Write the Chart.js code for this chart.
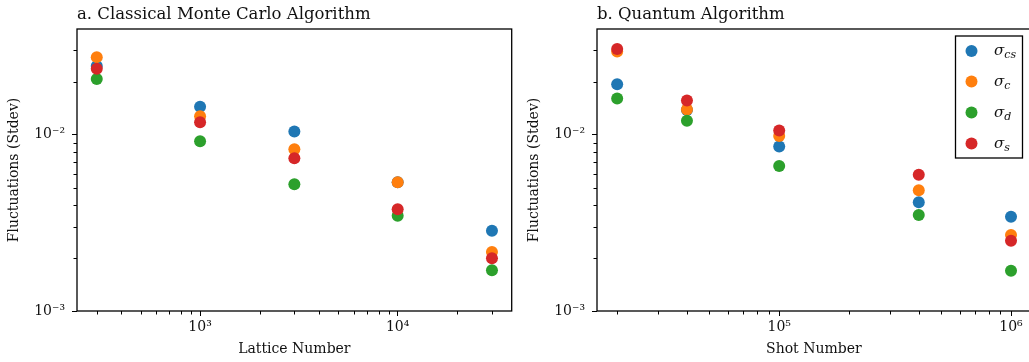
<!DOCTYPE html>
<html>
<head>
<meta charset="utf-8">
<script src="https://cdn.jsdelivr.net/npm/chart.js@4.4.0/dist/chart.umd.min.js"></script>
<style>
  html, body { margin: 0; padding: 0; background: #fff; overflow: hidden; width: 1029px; height: 362px; }
  .panel { position: absolute; top: 0; width: 520px; height: 362px; }
</style>
</head>
<body>
<div class="panel" style="left:0"><canvas id="chartA" width="520" height="362"></canvas></div>
<div class="panel" style="left:520px"><canvas id="chartB" width="520" height="362"></canvas></div>
<script>
// series names and subscripts for the legend
var seriesSub = ['cs', 'c', 'd', 's'];
var seriesColors = ['#1f77b4', '#ff7f0e', '#2ca02c', '#d62728'];

// a. classical monte carlo
var lattice = [300, 1000, 3000, 10000, 30000];
var mc_cs = [0.0245, 0.0144, 0.0104, 0.00537, 0.00285];
var mc_c = [0.0275, 0.0127, 0.00826, 0.00537, 0.00216];
var mc_d = [0.0207, 0.00917, 0.00523, 0.00347, 0.0017];
var mc_s = [0.0236, 0.01176, 0.00734, 0.00377, 0.00199];

// b. quantum
var shots = [20000, 40000, 100000, 400000, 1000000];
var q_cs = [0.0193, 0.0138, 0.00855, 0.00413, 0.00342];
var q_c = [0.0296, 0.0139, 0.00983, 0.00483, 0.0027];
var q_d = [0.016, 0.012, 0.00664, 0.0035, 0.00169];
var q_s = [0.0306, 0.0156, 0.01054, 0.00593, 0.0025];

// axis ticks
var yMajor = [0.001, 0.01];
var xMajorA = [1000, 10000];
var xMajorB = [100000, 1000000];
var supers = { '-3': '⁻³', '-2': '⁻²', '3': '³', '4': '⁴', '5': '⁵', '6': '⁶' };

var serif = "'DejaVu Serif', serif";

function powLabel(v) {
    var e = Math.round(Math.log10(v));
    return '10' + supers[String(e)];
}

function minorsFor(min, max) {
    var out = [];
    for (var e = -4; e <= 7; e++) {
        for (var m = 2; m <= 9; m++) {
            var v = m * Math.pow(10, e);
            if (v > min && v < max) out.push(v);
        }
    }
    return out;
}

var framePlugin = {
    id: 'frame',
    afterDraw: function(chart, args, opts) {
        var c = chart.ctx, a = chart.chartArea;
        c.save();
        // minor ticks
        c.strokeStyle = '#000';
        c.lineWidth = 1;
        var xs = chart.scales.x, ys = chart.scales.y;
        minorsFor(xs.min, xs.max).forEach(function(v) {
            var px = Math.round(xs.getPixelForValue(v)) + 0.5;
            c.beginPath(); c.moveTo(px, a.bottom); c.lineTo(px, a.bottom + 3.5); c.stroke();
        });
        minorsFor(ys.min, ys.max).forEach(function(v) {
            var py = Math.round(ys.getPixelForValue(v)) + 0.5;
            c.beginPath(); c.moveTo(a.left, py); c.lineTo(a.left - 3.5, py); c.stroke();
        });
        // box
        c.lineWidth = 1.3;
        c.strokeRect(a.left, a.top, a.right - a.left, a.bottom - a.top);
        // panel title
        c.fillStyle = '#111';
        c.font = '16.5px ' + serif;
        c.textBaseline = 'alphabetic';
        c.textAlign = 'left';
        c.fillText(opts.text, a.left, 19);
        c.restore();
    }
};

var legendPlugin = {
    id: 'sigmaLegend',
    afterDraw: function(chart, args, opts) {
        if (!opts.show) return;
        var c = chart.ctx;
        c.save();
        var bx = 435.5, by = 36, bw = 67, bh = 122;
        c.fillStyle = '#fff';
        c.fillRect(bx, by, bw, bh);
        c.strokeStyle = '#000';
        c.lineWidth = 1.3;
        c.strokeRect(bx, by, bw, bh);
        var rows = [51, 81.5, 112.5, 143.5];
        seriesSub.forEach(function(sub, i) {
            c.fillStyle = seriesColors[i];
            c.beginPath(); c.arc(451.5, rows[i], 6, 0, Math.PI * 2); c.fill();
            c.fillStyle = '#111';
            c.textBaseline = 'alphabetic';
            c.textAlign = 'left';
            c.font = 'italic 15px ' + serif;
            c.fillText('σ', 474, rows[i] + 4);
            var w = c.measureText('σ').width;
            c.font = 'italic 11px ' + serif;
            c.fillText(sub, 474 + w, rows[i] + 7);
        });
        c.restore();
    }
};

function makeDatasets(xs, lists) {
    return lists.map(function(list, i) {
        return {
            label: 'σ_' + seriesSub[i],
            data: xs.map(function(x, j) { return { x: x, y: list[j] }; }),
            backgroundColor: seriesColors[i],
            borderWidth: 0,
            pointRadius: 6,
            pointHoverRadius: 6,
            order: 4 - i
        };
    });
}

function makeChart(id, cfg) {
    return new Chart(document.getElementById(id), {
        type: 'scatter',
        data: { datasets: makeDatasets(cfg.xs, cfg.lists) },
        plugins: [framePlugin, legendPlugin],
        options: {
            responsive: false,
            animation: false,
            layout: { padding: { top: 29, right: cfg.padRight, left: 0, bottom: 0 } },
            plugins: {
                legend: { display: false },
                tooltip: { enabled: false },
                frame: { text: cfg.title },
                sigmaLegend: { show: cfg.legend }
            },
            scales: {
                x: {
                    type: 'logarithmic',
                    min: cfg.xmin,
                    max: cfg.xmax,
                    afterBuildTicks: function(s) { s.ticks = cfg.xMajor.map(function(v) { return { value: v }; }); },
                    afterFit: function(s) { s.height = 51; },
                    border: { display: false },
                    grid: { drawOnChartArea: false, drawTicks: true, tickLength: 5, color: '#000', tickWidth: 1 },
                    ticks: { color: '#111', font: { family: serif, size: 14 }, padding: 3, maxRotation: 0, autoSkip: false, callback: powLabel },
                    title: { display: true, text: cfg.xlabel, color: '#111', font: { family: serif, size: 14 }, padding: { top: 2 } }
                },
                y: {
                    type: 'logarithmic',
                    min: 0.001,
                    max: 0.0397,
                    afterBuildTicks: function(s) { s.ticks = yMajor.map(function(v) { return { value: v }; }); },
                    afterFit: function(s) { s.width = 77; },
                    border: { display: false },
                    grid: { drawOnChartArea: false, drawTicks: true, tickLength: 5, color: '#000', tickWidth: 1 },
                    ticks: { color: '#111', font: { family: serif, size: 14 }, padding: 7, autoSkip: false, callback: powLabel },
                    title: { display: true, text: 'Fluctuations (Stdev)', color: '#111', font: { family: serif, size: 14 }, padding: { top: 6, bottom: 0 } }
                }
            }
        }
    });
}

makeChart('chartA', {
    xs: lattice, lists: [mc_cs, mc_c, mc_d, mc_s],
    xmin: 238.3, xmax: 37760, xMajor: xMajorA,
    xlabel: 'Lattice Number', title: 'a. Classical Monte Carlo Algorithm',
    padRight: 8.3, legend: false
});
makeChart('chartB', {
    xs: shots, lists: [q_cs, q_c, q_d, q_s],
    xmin: 16370, xmax: 1216000, xMajor: xMajorB,
    xlabel: 'Shot Number', title: 'b. Quantum Algorithm',
    padRight: 9.3, legend: true
});
</script>
</body>
</html>
